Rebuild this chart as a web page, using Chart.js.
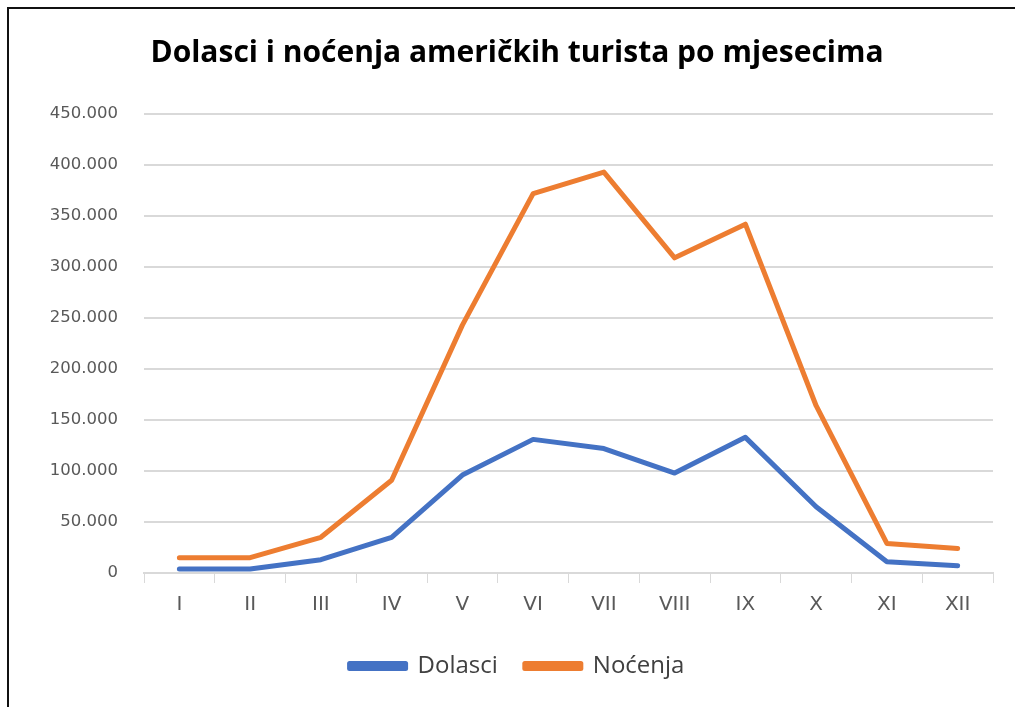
<!DOCTYPE html>
<html>
<head>
<meta charset="utf-8">
<script src="https://cdn.jsdelivr.net/npm/chart.js@4.4.1/dist/chart.umd.min.js"></script>
<style>
  html, body { margin: 0; padding: 0; background: #fff; }
  #wrap { position: relative; width: 1015px; height: 707px; overflow: hidden; }
  #frame { position: absolute; left: 7px; top: 7px; right: -10px; bottom: -10px;
           border-left: 2px solid #111; border-top: 2px solid #111; pointer-events: none; }
  canvas { position: absolute; left: 0; top: 0; }
</style>
</head>
<body>
<div id="wrap">
  <canvas id="chart" width="1015" height="707"></canvas>
  <div id="frame"></div>
</div>
<script>
const months = ['I', 'II', 'III', 'IV', 'V', 'VI', 'VII', 'VIII', 'IX', 'X', 'XI', 'XII'];
const dolasci = [4000, 4000, 13000, 35000, 96000, 131000, 122000, 98000, 133000, 65000, 11000, 7000];
const nocenja = [15000, 15000, 35000, 91000, 243000, 372000, 393000, 309000, 342000, 164000, 29000, 24000];

const fontFamily = "'Open Sans', sans-serif";
const tickFamily = "'DejaVu Sans', sans-serif";

// thousands with a dot, like the original
const fmt = v => v === 0 ? '0' : String(v).replace(/\B(?=(\d{3})+(?!\d))/g, '.');

const ctx = document.getElementById('chart').getContext('2d');
new Chart(ctx, {
  type: 'line',
  data: {
    labels: months,
    datasets: [
      {
        label: 'Dolasci',
        data: dolasci,
        borderColor: '#4472C4',
        backgroundColor: '#4472C4',
        borderWidth: 5,
        pointRadius: 0,
        tension: 0,
        borderJoinStyle: 'round',
        borderCapStyle: 'round'
      },
      {
        label: 'Noćenja',
        data: nocenja,
        borderColor: '#ED7D31',
        backgroundColor: '#ED7D31',
        borderWidth: 5,
        pointRadius: 0,
        tension: 0,
        borderJoinStyle: 'round',
        borderCapStyle: 'round'
      }
    ]
  },
  options: {
    responsive: false,
    animation: false,
    layout: { padding: { left: 41, right: 22, top: 0, bottom: 19 } },
    plugins: {
      title: {
        display: true,
        text: 'Dolasci i noćenja američkih turista po mjesecima',
        color: '#000',
        font: { family: fontFamily, size: 30, weight: 'bold' },
        padding: { top: 35, bottom: 43 }
      },
      legend: {
        position: 'bottom',
        labels: {
          color: '#404040',
          font: { family: fontFamily, size: 24 },
          boxWidth: 56,
          boxHeight: 5,
          padding: 27
        }
      },
      tooltip: { enabled: false }
    },
    scales: {
      x: {
        offset: true,
        grid: {
          offset: true,
          drawOnChartArea: false,
          drawTicks: true,
          tickLength: 10,
          color: '#d9d9d9'
        },
        border: { display: true, color: '#d9d9d9', width: 2 },
        ticks: {
          color: '#595959',
          font: { family: tickFamily, size: 20 },
          padding: 10,
          maxRotation: 0
        }
      },
      y: {
        min: 0,
        max: 450000,
        afterFit: scale => { scale.width = 103; },
        grid: { color: '#d9d9d9', lineWidth: 2, drawTicks: false },
        border: { display: false },
        ticks: {
          stepSize: 50000,
          color: '#595959',
          font: { family: tickFamily, size: 16.5 },
          padding: 26,
          callback: v => fmt(v)
        }
      }
    }
  }
});
</script>
</body>
</html>
